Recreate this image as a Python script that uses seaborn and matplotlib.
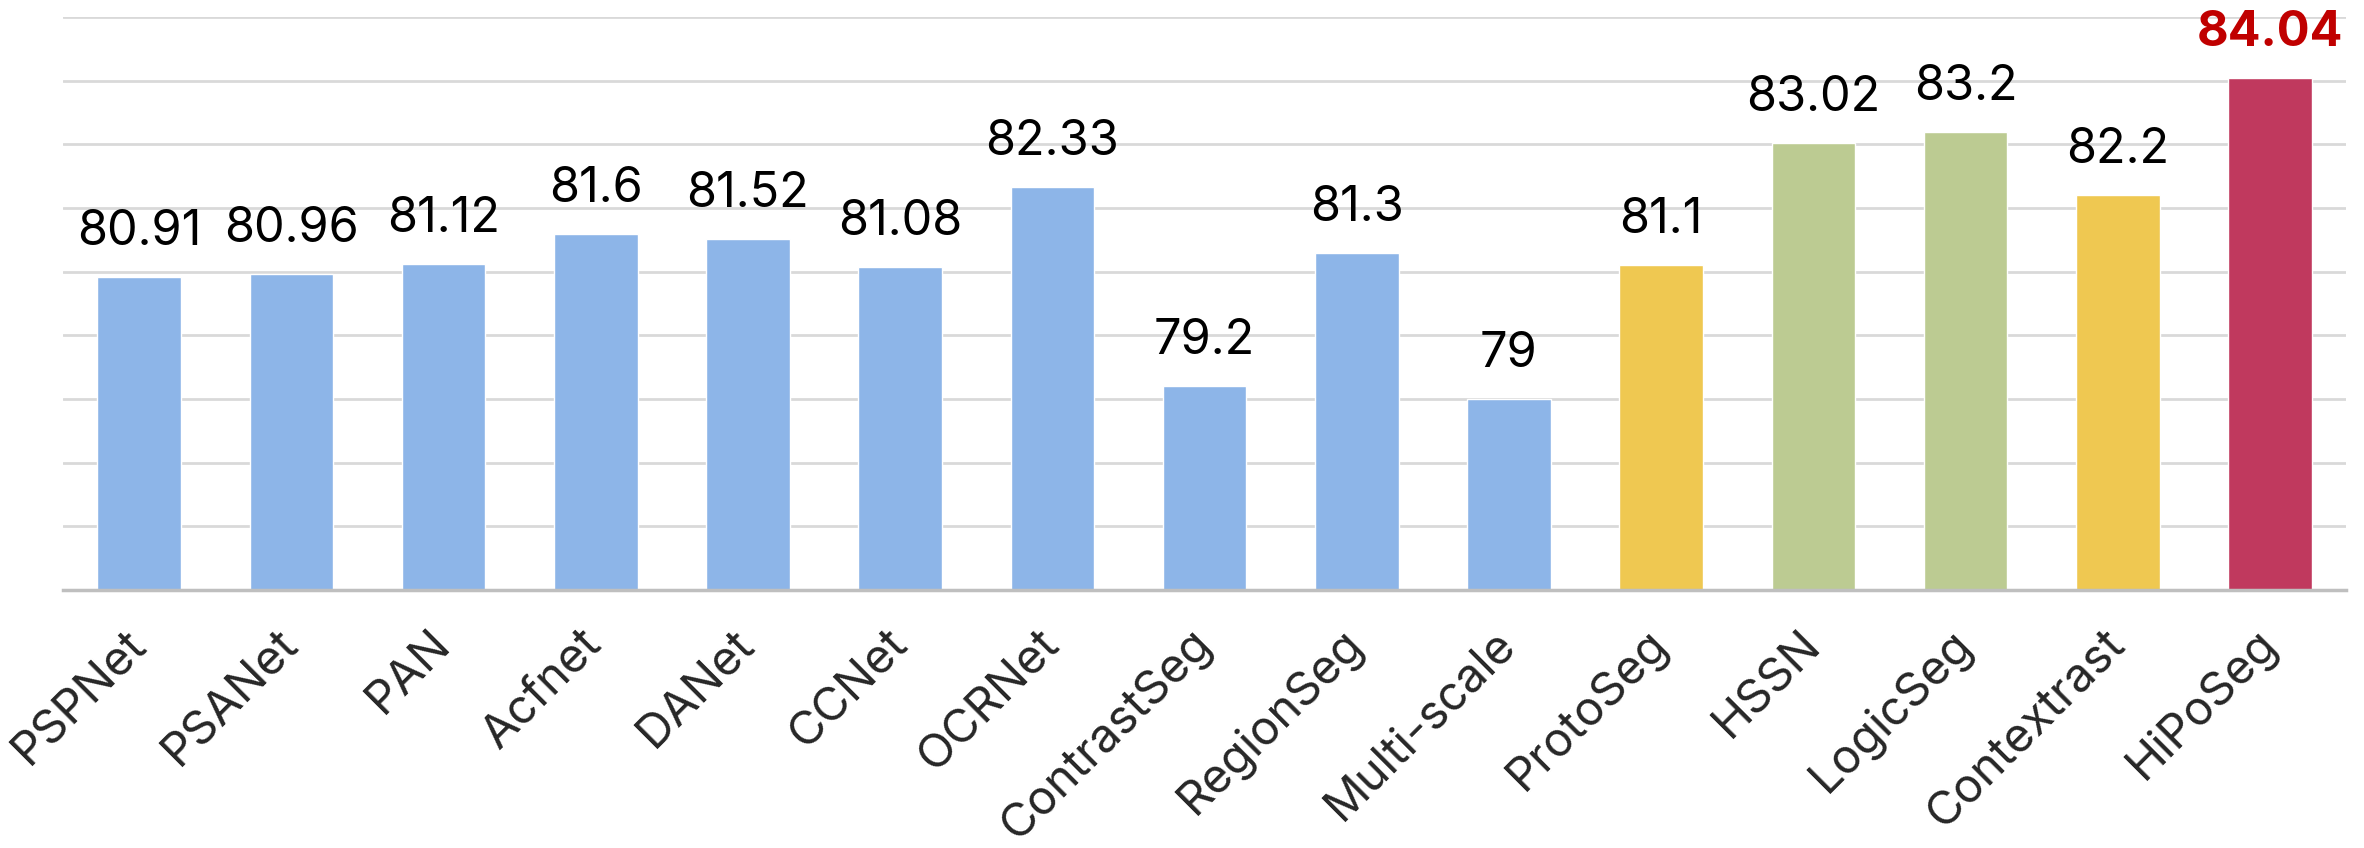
import numpy as np
import pandas as pd
import seaborn as sns
import matplotlib.pyplot as plt
from matplotlib.ticker import FixedLocator

methods = ['PSPNet', 'PSANet', 'PAN', 'Acfnet', 'DANet', 'CCNet', 'OCRNet', 'ContrastSeg',
           'RegionSeg', 'Multi-scale', 'ProtoSeg', 'HSSN', 'LogicSeg', 'Contextrast', 'HiPoSeg']
miou = [80.91, 80.96, 81.12, 81.6, 81.52, 81.08, 82.33, 79.2, 81.3, 79, 81.1, 83.02, 83.2, 82.2, 84.04]
labels = ['80.91', '80.96', '81.12', '81.6', '81.52', '81.08', '82.33', '79.2', '81.3', '79',
          '81.1', '83.02', '83.2', '82.2', '84.04']

blue, yellow, green, red = '#8DB5E8', '#EFC851', '#BCCB92', '#C0395E'
colors = [blue] * 10 + [yellow, green, green, yellow, red]

df = pd.DataFrame({'method': methods, 'miou': miou})

sns.set_style('white')
plt.rcParams['font.family'] = ['Inter', 'DejaVu Sans']

fig = plt.figure(figsize=(23.64, 8.48), dpi=100)
ax = fig.add_axes([0.0267, 0.3042, 0.9657, 0.6757])

sns.barplot(data=df, x='method', y='miou', hue='method', palette=colors,
            saturation=1, width=0.55, legend=False, ax=ax, zorder=3)

ax.set_ylim(76, 85)
ax.set_xlim(-0.5, len(methods) - 0.5)
ax.set_yticks(np.arange(76, 86, 1))
ax.set_yticklabels([])
ax.tick_params(axis='y', length=0)
ax.grid(axis='y', color='#D9D9D9', linewidth=2, zorder=0)
ax.set_axisbelow(True)

for s in ['top', 'right', 'left']:
    ax.spines[s].set_visible(False)
ax.spines['bottom'].set_color('#BFBFBF')
ax.spines['bottom'].set_linewidth(2.5)
ax.spines['bottom'].set_zorder(4)

# category separators like Excel
ax.xaxis.set_minor_locator(FixedLocator(np.arange(-0.5, len(methods), 1)))
ax.tick_params(axis='x', which='minor', length=15, width=2, color='#BFBFBF')
ax.tick_params(axis='x', which='major', length=0, pad=34)
ax.set_xticks(range(len(methods)))
ax.set_xticklabels(methods, rotation=45, ha='right', va='center',
                   rotation_mode='anchor', fontsize=34)
ax.set_xlabel('')
ax.set_ylabel('')

for i, (v, t) in enumerate(zip(miou, labels)):
    if i == len(miou) - 1:
        ax.annotate(t, (i, v), xytext=(0, 23), textcoords='offset points',
                    ha='center', va='baseline', fontsize=35, fontweight='bold', color='#C00000')
    else:
        ax.annotate(t, (i, v), xytext=(0, 23), textcoords='offset points',
                    ha='center', va='baseline', fontsize=35, color='black')

fig.savefig('out.png', dpi=100)
